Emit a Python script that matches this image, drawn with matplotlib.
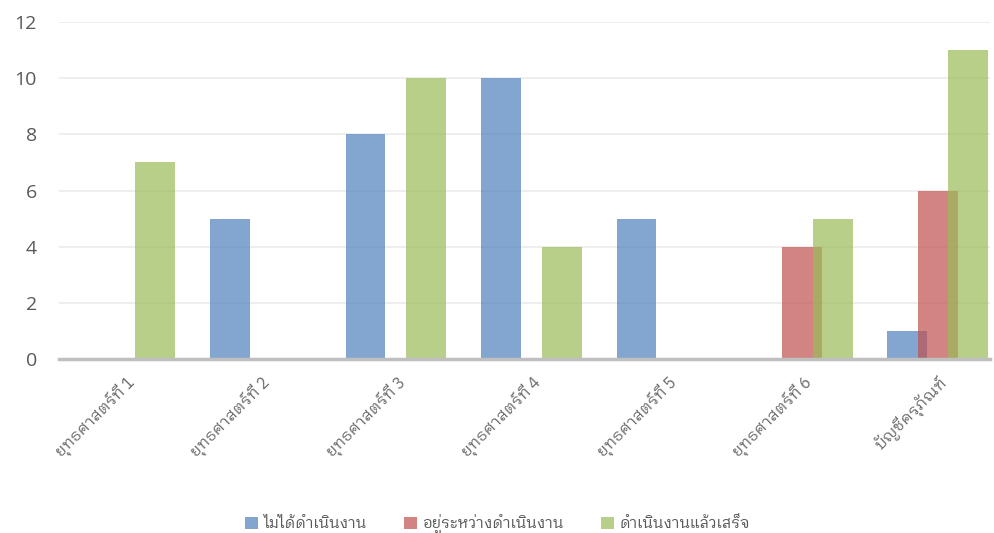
import matplotlib
matplotlib.use('Agg')
import matplotlib.pyplot as plt
import numpy as np

categories = ['ยุทธศาสตร์ที่ 1', 'ยุทธศาสตร์ที่ 2', 'ยุทธศาสตร์ที่ 3', 'ยุทธศาสตร์ที่ 4',
              'ยุทธศาสตร์ที่ 5', 'ยุทธศาสตร์ที่ 6', 'บัญชีครุภัณฑ์']
not_started = [0, 5, 8, 10, 5, 0, 1]
in_progress = [0, 0, 0, 0, 0, 4, 6]
finished = [7, 0, 10, 4, 0, 5, 11]
series_names = ['ไม่ได้ดำเนินงาน', 'อยู่ระหว่างดำเนินงาน', 'ดำเนินงานแล้วเสร็จ']
colors = ['#4F81BD', '#C0504D', '#9BBB59']

plt.rcParams['font.family'] = ['IBM Plex Sans Thai Looped', 'DejaVu Sans']

fig = plt.figure(figsize=(9.95, 5.33), dpi=100)
ax = fig.add_axes([59 / 995, 1 - 359 / 533, (990 - 59) / 995, (359 - 22) / 533])

x = np.arange(len(categories))
w = 0.295
off = 0.225
for vals, dx, c, name in zip([not_started, in_progress, finished], [-off, 0, off], colors, series_names):
    ax.bar(x + dx, vals, width=w, color=c, alpha=0.7, label=name, zorder=3)

ax.set_xlim(-0.487, 6.384)
ax.set_ylim(0, 12)
ax.set_yticks(range(0, 13, 2))
ax.yaxis.grid(True, color='#EBEBEB', linewidth=1.2, zorder=0)
for s in ['top', 'right', 'left']:
    ax.spines[s].set_visible(False)
ax.spines['bottom'].set_color('#BFBFBF')
ax.spines['bottom'].set_linewidth(2.5)
ax.spines['bottom'].set_zorder(4)
ax.tick_params(axis='y', length=0, labelsize=14, labelcolor='#595959', pad=16)
ax.tick_params(axis='x', length=0, labelsize=11.5, labelcolor='#6A6A6A', pad=10)
for t in ax.get_yticklabels():
    t.set_fontfamily(['Open Sans'])
ax.set_xticks(x)
ax.set_xticklabels(categories, rotation=45, ha='right', rotation_mode='anchor')

fig.legend(loc='lower center', bbox_to_anchor=(0.5, -0.028), ncol=3, frameon=False,
           prop={'size': 11}, handlelength=0.85, handleheight=0.85, columnspacing=2.5,
           handletextpad=0.3, labelcolor='#595959')

fig.savefig('out.png', dpi=100)
